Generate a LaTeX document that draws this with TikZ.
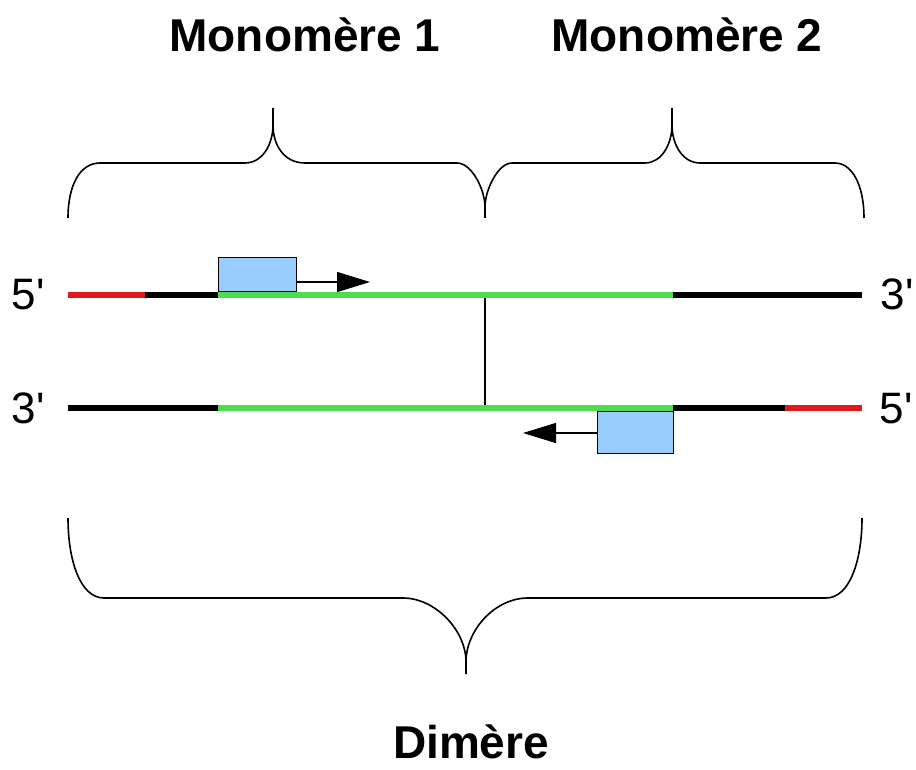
\documentclass[tikz,border=0pt]{standalone}
\usepackage{fontspec}
\setmainfont{Liberation Sans}
\newfontfamily\labelfont{Liberation Sans}[Ligatures=TeXOff]
\usetikzlibrary{arrows.meta}
\definecolor{dnared}{RGB}{224,24,24}
\definecolor{dnagreen}{RGB}{80,220,80}
\definecolor{boxblue}{RGB}{153,204,255}
\tikzset{
  strand/.style={line width=6pt},
  bracestyle/.style={line width=1.6pt, black},
  genebox/.style={draw=black, line width=1.4pt, fill=boxblue, minimum width=#1, inner sep=0pt},
  dirarrow/.style={line width=1.4pt, -{Triangle[length=33pt,width=20pt]}},
  title/.style={font=\fontsize{46}{52}\selectfont\bfseries, inner sep=0pt, anchor=base},
  endlabel/.style={font=\labelfont\fontsize{44}{50}\selectfont, inner sep=0pt, anchor=base},
}
\begin{document}
\begin{tikzpicture}[x=1pt,y=-1pt]
\useasboundingbox[fill=white] (0,0) rectangle (916,770);
% titles
\node[title] (m1) at (305,52) {Monomère 1};
\node[title] (m2) at (687,52) {Monomère 2};
\node[title] (dim) at (471,758) {Dimère};
% end labels
\node[endlabel] (l5a) at (28,309) {5'};
\node[endlabel] (r3a) at (897,309) {3'};
\node[endlabel] (l3b) at (28,423) {3'};
\node[endlabel] (r5b) at (896,423) {5'};
% coordinates of strands
\coordinate (a0) at (68,295);
\coordinate (a1) at (145,295);
\coordinate (a2) at (218,295);
\coordinate (a3) at (673,295);
\coordinate (a4) at (862,295);
\coordinate (b0) at (68,408);
\coordinate (b2) at (218,408);
\coordinate (b3) at (673,408);
\coordinate (b4) at (785,408);
\coordinate (b5) at (862,408);
\coordinate (mid1) at (485,295);
\coordinate (mid2) at (485,408);
% link
\draw[line width=1.4pt] (mid1) -- (mid2);
% top strand
\draw[strand, dnared] (a0) -- (a1);
\draw[strand, black] (a1) -- (a2);
\draw[strand, dnagreen] (a2) -- (a3);
\draw[strand, black] (a3) -- (a4);
% bottom strand
\draw[strand, black] (b0) -- (b2);
\draw[strand, dnagreen] (b2) -- (b3);
\draw[strand, black] (b3) -- (b4);
\draw[strand, dnared] (b4) -- (b5);
% boxes
\node[genebox=78pt, minimum height=34pt, anchor=south west] (box1) at (218,292) {};
\node[genebox=76pt, minimum height=42pt, anchor=north east] (box2) at (674,411) {};
\coordinate (t1) at (370,282);
\coordinate (t2) at (523,433);
\draw[dirarrow] (box1.east |- t1) -- (t1);
\draw[dirarrow] (box2.west |- t2) -- (t2);
% top braces
\draw[bracestyle] (68,218) .. controls (68,185) and (80,163) .. (100,163) -- (245,163)
  .. controls (262,163) and (273,145) .. (273,125) -- (273,108);
\draw[bracestyle] (273,125) .. controls (273,145) and (284,163) .. (305,163) -- (457,163)
  .. controls (472,163) and (485,190) .. (485,207) -- (485,218);
\draw[bracestyle] (485,207) .. controls (485,190) and (498,163) .. (512,163) -- (645,163)
  .. controls (661,163) and (672,145) .. (672,125) -- (672,108);
\draw[bracestyle] (672,125) .. controls (672,145) and (683,163) .. (700,163) -- (835,163)
  .. controls (852,163) and (864,185) .. (864,218);
% bottom brace
\draw[bracestyle] (68,518) .. controls (68,560) and (80,598) .. (104,598) -- (403,598)
  .. controls (435,598) and (466,630) .. (466,662) -- (466,674);
\draw[bracestyle] (466,662) .. controls (466,630) and (495,598) .. (528,598) -- (826,598)
  .. controls (850,598) and (862,560) .. (862,518);
\end{tikzpicture}
\end{document}
